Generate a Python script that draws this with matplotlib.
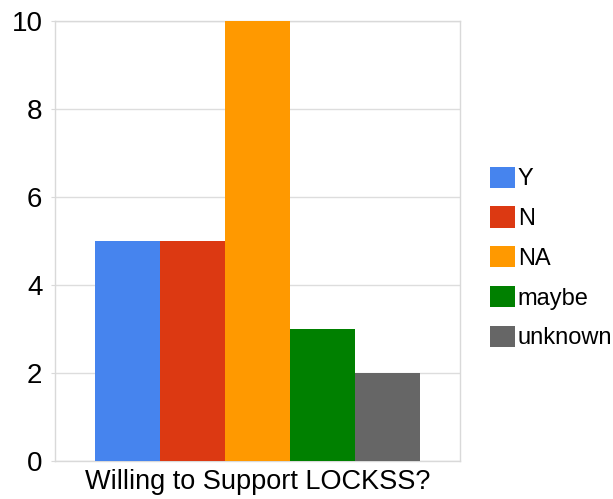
"""
    plot.py
        -- willing to support LOCKSS bar chart
"""
import matplotlib

matplotlib.use("Agg")
import matplotlib.pyplot as plt

categories = ["Y", "N", "NA", "maybe", "unknown"]
counts = [5, 5, 10, 3, 2]
colors = ["#4684EE", "#DC3912", "#FF9900", "#008000", "#666666"]
group_label = "Willing to Support LOCKSS?"
yticks = [0, 2, 4, 6, 8, 10]


def plot_chart():
    plt.rcParams["font.family"] = ["Liberation Sans", "DejaVu Sans"]
    fig = plt.figure(figsize=(6.13, 4.99), dpi=100)
    ax = fig.add_axes([0.0897, 0.0762, 0.6607, 0.8818])

    bars = []
    for i, (cat, val, col) in enumerate(zip(categories, counts, colors)):
        bars.append(ax.bar(i, val, width=1.0, color=col, label=cat, zorder=3))

    ax.set_xlim(-1.115, 5.115)
    ax.set_ylim(0, 10)
    ax.set_yticks(yticks)
    ax.set_xticks([])
    ax.set_xlabel(group_label, fontsize=19.5, labelpad=6)
    ax.tick_params(axis="y", labelsize=20, length=3, color="#d9d9d9", pad=6)
    ax.grid(axis="y", color="#dddddd", linewidth=1, zorder=0)
    for s in ax.spines.values():
        s.set_color("#d9d9d9")
        s.set_linewidth(1)

    fig.legend(
        handles=bars,
        labels=categories,
        loc="center left",
        bbox_to_anchor=(0.799, 0.483),
        bbox_transform=fig.transFigure,
        frameon=False,
        fontsize=17,
        handlelength=1.06,
        handleheight=1.0,
        handletextpad=0.13,
        labelspacing=0.68,
        borderpad=0,
        borderaxespad=0,
    )

    fig.savefig("out.png", dpi=100)
    plt.close("all")


if __name__ == "__main__":
    plot_chart()
